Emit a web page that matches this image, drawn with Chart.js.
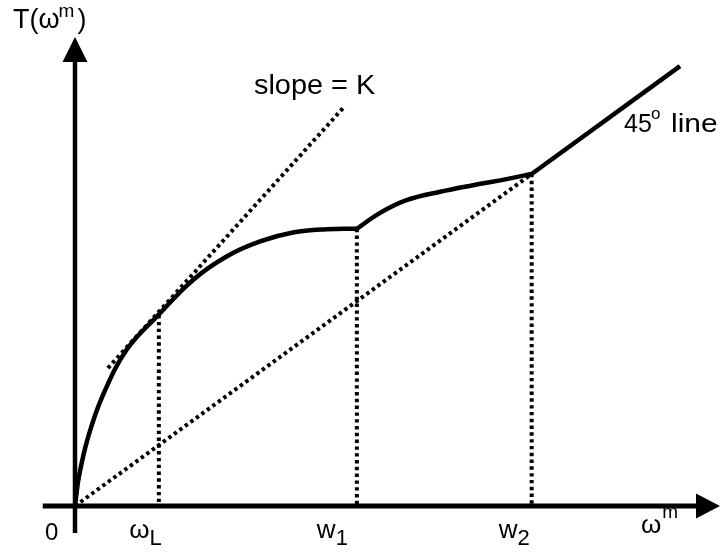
<!DOCTYPE html>
<html><head><meta charset="utf-8">
<script src="https://cdn.jsdelivr.net/npm/chart.js@4.4.0/dist/chart.umd.min.js"></script>
<style>html,body{margin:0;padding:0;background:#fff;}canvas{display:block;}</style>
</head><body>
<canvas id="c" width="724" height="554"></canvas>
<script>
// T(w) curve below w1 (concave part)
const curveLowX = [0, 0.06, 0.20, 0.42, 0.80, 1.29, 1.83, 2.35, 2.87, 3.38, 3.90, 4.37];
const curveLowY = [0, 0.62, 1.45, 2.32, 3.33, 4.07, 4.82, 5.32, 5.64, 5.83, 5.90, 5.91];
// T(w) curve between w1 and w2
const curveHighX = [4.37, 4.73, 5.14, 5.66, 6.17, 6.69, 7.08];
const curveHighY = [5.91, 6.25, 6.52, 6.70, 6.84, 6.97, 7.08];
// 45 degree line beyond w2
const lineX = [7.08, 9.38];
const lineY = [7.08, 9.38];
// dotted ray from origin to w2
const rayX = [0, 7.08];
const rayY = [0, 7.08];
// dotted tangent, slope = K
const tangentX = [0.51, 4.16];
const tangentY = [2.94, 8.49];
// marked points on the horizontal axis
const markNames = ['ω', 'w', 'w'];
const markSubs = ['L', '1', '2'];
const markX = [1.30, 4.37, 7.08];
const markY = [4.07, 5.91, 7.08];

const pts = (xs, ys) => xs.map((x, i) => ({x: x, y: ys[i]}));
const solid = {borderColor: '#000', borderWidth: 4.5, pointRadius: 0, showLine: true, fill: false, clip: false, borderCapStyle: 'butt', borderJoinStyle: 'round'};
const dotted = {borderColor: '#000', borderWidth: 4, pointRadius: 0, showLine: true, fill: false, clip: false, borderDash: [3.4, 3.4], borderCapStyle: 'butt', tension: 0};

const datasets = [
  Object.assign({data: pts(curveLowX, curveLowY), tension: 0.4}, solid),
  Object.assign({data: pts(curveHighX, curveHighY), tension: 0.4}, solid),
  Object.assign({data: pts(lineX, lineY), tension: 0}, solid),
  Object.assign({data: pts(rayX, rayY)}, dotted),
  Object.assign({data: pts(tangentX, tangentY)}, dotted)
];
markX.forEach((mx, i) => {
  datasets.push(Object.assign({data: [{x: mx, y: markY[i]}, {x: mx, y: 0}]}, dotted));
});

const FONT = '"Liberation Sans", Arial, Helvetica, sans-serif';
function txt(ctx, s, x, y, size, sx) {
  ctx.save();
  ctx.font = size + 'px ' + FONT;
  ctx.translate(x, y);
  ctx.scale(sx || 1, 1);
  ctx.fillText(s, 0, 0);
  const w = ctx.measureText(s).width * (sx || 1);
  ctx.restore();
  return w;
}

const axesPlugin = {
  id: 'axes',
  beforeDatasetsDraw(chart) {
    const ctx = chart.ctx, xs = chart.scales.x, ys = chart.scales.y;
    const x0 = xs.getPixelForValue(0), y0 = ys.getPixelForValue(0);
    const xTip = xs.getPixelForValue(10), yTip = ys.getPixelForValue(10);
    ctx.save();
    ctx.strokeStyle = '#000'; ctx.fillStyle = '#000'; ctx.lineCap = 'butt';
    // horizontal axis
    ctx.lineWidth = 5;
    ctx.beginPath(); ctx.moveTo(xs.getPixelForValue(-0.5), y0); ctx.lineTo(xTip - 20, y0); ctx.stroke();
    ctx.beginPath(); ctx.moveTo(xTip, y0); ctx.lineTo(xTip - 24, y0 - 12.5); ctx.lineTo(xTip - 24, y0 + 12.5); ctx.closePath(); ctx.fill();
    // vertical axis
    ctx.lineWidth = 4.5;
    ctx.beginPath(); ctx.moveTo(x0, ys.getPixelForValue(-0.575)); ctx.lineTo(x0, yTip + 20); ctx.stroke();
    ctx.beginPath(); ctx.moveTo(x0, yTip); ctx.lineTo(x0 - 12.5, yTip + 25); ctx.lineTo(x0 + 12.5, yTip + 25); ctx.closePath(); ctx.fill();
    ctx.restore();
  },
  afterDatasetsDraw(chart) {
    const ctx = chart.ctx, xs = chart.scales.x, ys = chart.scales.y;
    const y0 = ys.getPixelForValue(0);
    ctx.save();
    ctx.fillStyle = '#000'; ctx.textBaseline = 'alphabetic'; ctx.textAlign = 'left';
    // vertical axis title T(ω^m)
    let x = 13;
    x += txt(ctx, 'T(ω', x, 28, 27);
    x += txt(ctx, 'm', x - 1, 17, 19) + 2;
    txt(ctx, ')', x, 28, 27);
    // origin
    txt(ctx, '0', 45, y0 + 34, 24);
    // marks
    const nudge = [3, -9, -2];
    markX.forEach((mx, i) => {
      ctx.font = '26px ' + FONT;
      const w1 = ctx.measureText(markNames[i]).width;
      ctx.font = '22px ' + FONT;
      const w2 = ctx.measureText(markSubs[i]).width;
      const right = xs.getPixelForValue(mx) + nudge[i];
      const left = right - w1 - w2;
      txt(ctx, markNames[i], left, y0 + 32, 26);
      txt(ctx, markSubs[i], left + w1, y0 + 39, 22);
    });
    // horizontal axis title ω^m
    const wW = txt(ctx, 'ω', 641, y0 + 27, 26);
    txt(ctx, 'm', 641 + wW + 1, y0 + 12, 19);
    // slope label
    txt(ctx, 'slope = K', 254, 94, 27, 1.07);
    // 45 degree label
    txt(ctx, '45', 624, 132, 25);
    txt(ctx, 'o', 651, 119, 17);
    txt(ctx, 'line', 671, 132, 26, 1.15);
    ctx.restore();
  }
};

new Chart(document.getElementById('c'), {
  type: 'scatter',
  data: {datasets: datasets},
  options: {
    responsive: false,
    animation: false,
    layout: {padding: {left: 75, right: 4, top: 37, bottom: 48}},
    scales: {
      x: {type: 'linear', display: false, min: 0, max: 10},
      y: {type: 'linear', display: false, min: 0, max: 10}
    },
    plugins: {legend: {display: false}, tooltip: {enabled: false}}
  },
  plugins: [axesPlugin]
});
</script>
</body></html>
